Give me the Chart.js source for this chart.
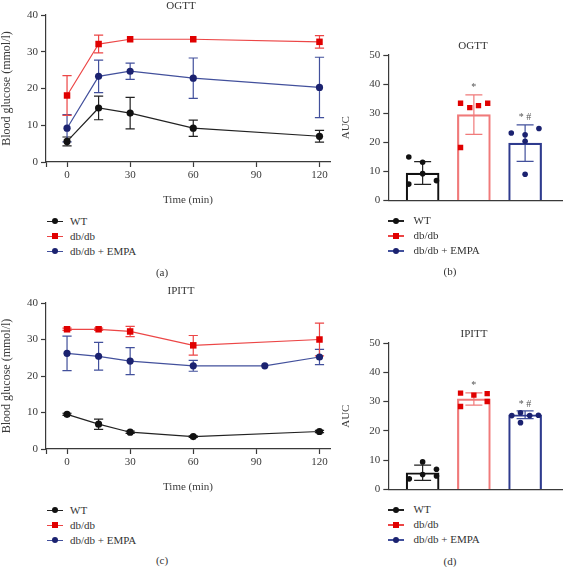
<!DOCTYPE html>
<html lang="en">
<head>
<meta charset="UTF-8">
<title>OGTT / IPITT</title>
<script src="https://cdn.jsdelivr.net/npm/chart.js"></script>
<style>
  body { margin: 0; background: #fff; font-family: 'Liberation Serif', 'Times New Roman', serif; color: #333; }
  .page { position: relative; width: 566px; height: 567px; overflow: hidden; }
  canvas { position: absolute; }
  .tag { position: absolute; font-size: 11px; line-height: 13px; white-space: nowrap; transform: translate(-50%, -50%); }
  .legend { position: absolute; font-size: 11px; line-height: 15px; white-space: nowrap; }
  .legend .key { display: inline-block; position: relative; width: 16px; height: 15px; vertical-align: top; }
  .legend .ln { position: absolute; left: 0; right: 0; top: 7px; height: 1.5px; }
  .legend .mk { position: absolute; left: 5px; top: 4.5px; width: 6px; height: 6px; }
  .legend .circ { border-radius: 50%; }
</style>
</head>
<body>
<div class="page">
  <canvas id="ogtt" width="340" height="207" style="left:0;top:0"></canvas>
  <canvas id="ogttAuc" width="226" height="165" style="left:340px;top:45px"></canvas>
  <canvas id="ipitt" width="340" height="206" style="left:0;top:288px"></canvas>
  <canvas id="ipittAuc" width="226" height="166" style="left:340px;top:333px"></canvas>

  <div class="tag" style="left:181px;top:5px">OGTT</div>
  <div class="tag" style="left:473px;top:45px">OGTT</div>
  <div class="tag" style="left:181px;top:290px">IPITT</div>
  <div class="tag" style="left:474px;top:333px">IPITT</div>

  <div class="tag" style="left:162px;top:272px">(a)</div>
  <div class="tag" style="left:450px;top:271px">(b)</div>
  <div class="tag" style="left:162px;top:560px">(c)</div>
  <div class="tag" style="left:450px;top:561px">(d)</div>
</div>

<script>
// ---- data ----
const times = [0, 15, 30, 60, 120];
const timesEmpaIpitt = [0, 15, 30, 60, 94, 120];
const timeTicks = [0, 30, 60, 90, 120];
const glucoseTicks = [0, 10, 20, 30, 40];
const aucTicks = [0, 10, 20, 30, 40, 50];

const wtOgtt = [5.6, 14.7, 13.3, 9.2, 7.0];
const wtOgttSd = [1.2, 3.2, 4.3, 2.2, 1.6];
const dbOgtt = [18.1, 32.1, 33.4, 33.4, 32.7];
const dbOgttSd = [5.4, 2.4, 0, 0, 1.7];
const empaOgtt = [9.2, 23.3, 24.7, 22.8, 20.3];
const empaOgttSd = [3.7, 4.4, 2.2, 5.5, 8.2];

const wtIpitt = [9.5, 6.8, 4.6, 3.4, 4.8];
const wtIpittSd = [0.3, 1.4, 0.3, 0.2, 0.3];
const dbIpitt = [32.8, 32.8, 32.2, 28.4, 30.0];
const dbIpittSd = [0.3, 0.3, 1.4, 2.7, 4.5];
const empaIpitt = [26.2, 25.4, 24.1, 22.8, 22.8, 25.2];
const empaIpittSd = [4.7, 3.8, 3.7, 1.5, 0, 2.1];

const groups = ['WT', 'db/db', 'db/db + EMPA'];
const sigMarks = ['', '*', '*#'];

const aucOgtt = [9.4, 29.5, 19.7];
const aucOgttSd = [3.9, 6.8, 6.3];
const aucOgttWt = [14.9, 13.1, 9.2, 5.6, 6.8];
const aucOgttDb = [33.4, 31.9, 32.6, 33.4, 18.2];
const aucOgttEmpa = [23.2, 22.6, 20.3, 24.7, 9.0];
const jitOgttWt = [-0.27, 0, 0, -0.27, 0.27];
const jitOgttDb = [-0.26, -0.08, 0.09, 0.27, -0.26];
const jitOgttEmpa = [-0.27, 0, 0, 0.27, 0];

const aucIpitt = [5.7, 30.9, 25.5];
const aucIpittSd = [2.6, 2.1, 1.3];
const aucIpittWt = [9.4, 6.9, 5.1, 4.6, 3.6];
const aucIpittDb = [32.9, 32.2, 32.7, 28.3, 30.0];
const aucIpittEmpa = [25.2, 26.2, 25.2, 25.3, 22.8];
const jitIpittWt = [0, 0.27, 0, 0.27, -0.26];
const jitIpittDb = [-0.26, 0, 0.26, -0.26, 0.26];
const jitIpittEmpa = [-0.26, -0.09, 0.09, 0.26, -0.09];

// ---- style ----
const FONT = "'Liberation Serif', 'Times New Roman', serif";
const INK = '#3a3a3a';
const WT_C = '#111111', DB_C = '#e00000', EM_C = '#1b2270';
const WT_L = '#222222', DB_L = '#ec4646', EM_L = '#42509c';
const DB_BAR = '#f07a7a', EM_BAR = '#2e3b8e';

Chart.defaults.font.family = FONT;
Chart.defaults.font.size = 11;
Chart.defaults.color = INK;

// error bars (mean ± sd) drawn through the chart's own scales
const errorBars = {
  id: 'errorBars',
  beforeDatasetsDraw(chart) {
    const ctx = chart.ctx;
    chart.data.datasets.forEach((ds, i) => {
      if (!ds.sd) return;
      const meta = chart.getDatasetMeta(i);
      const ys = chart.scales[meta.yAxisID];
      meta.data.forEach((el, j) => {
        const sd = ds.sd[j];
        if (!sd) return;
        const v = ds.data[j].y;
        const top = ys.getPixelForValue(v + sd), bot = ys.getPixelForValue(v - sd);
        const w = ds.capHalf;
        ctx.save();
        ctx.strokeStyle = Array.isArray(ds.errColor) ? ds.errColor[j] : ds.errColor;
        ctx.lineWidth = 1.2;
        ctx.beginPath();
        ctx.moveTo(el.x, top); ctx.lineTo(el.x, bot);
        ctx.moveTo(el.x - w, top); ctx.lineTo(el.x + w, top);
        ctx.moveTo(el.x - w, bot); ctx.lineTo(el.x + w, bot);
        ctx.stroke();
        ctx.restore();
      });
    });
  },
  afterDatasetsDraw(chart) {
    const ctx = chart.ctx;
    chart.data.datasets.forEach((ds, i) => {
      if (!ds.sig) return;
      const meta = chart.getDatasetMeta(i);
      const ys = chart.scales[meta.yAxisID];
      meta.data.forEach((el, j) => {
        if (!ds.sig[j]) return;
        const y = ys.getPixelForValue(ds.data[j].y + ds.sd[j]) - 7;
        ctx.save();
        ctx.fillStyle = '#555';
        ctx.font = '10px ' + FONT;
        ctx.textAlign = 'center';
        ctx.textBaseline = 'middle';
        ctx.fillText(ds.sig[j].split('').join(' '), el.x, y);
        ctx.restore();
      });
    });
  }
};

function lineSet(label, xs, ys, sd, color, lineColor, style) {
  return {
    label, sd,
    data: xs.map((x, i) => ({ x, y: ys[i] })),
    borderColor: lineColor,
    borderWidth: 1.2,
    pointStyle: style,
    pointRadius: style === 'rect' ? 4.6 : 3.6,
    pointBackgroundColor: color,
    pointBorderColor: color,
    pointBorderWidth: 0,
    errColor: lineColor,
    capHalf: 4.6,
    tension: 0
  };
}

function axisLine() {
  return { display: true, color: INK, width: 1.2 };
}

function timeChart(id, sets) {
  new Chart(document.getElementById(id), {
    type: 'line',
    data: { datasets: sets },
    plugins: [errorBars],
    options: {
      responsive: false,
      animation: false,
      layout: { padding: { top: 15, right: 10, left: 0, bottom: 0 } },
      plugins: { legend: { display: false }, tooltip: { enabled: false } },
      scales: {
        x: {
          type: 'linear', min: -10, max: 125,
          afterBuildTicks: s => { s.ticks = [-10, ...timeTicks].map(v => ({ value: v })); },
          afterFit: s => { s.height = 45; },
          ticks: { padding: 2, callback: v => (v < 0 ? '' : v) },
          grid: { drawOnChartArea: false, tickLength: 5, tickColor: INK, tickWidth: 1.2 },
          border: axisLine(),
          title: { display: true, text: 'Time (min)', padding: 0 }
        },
        y: {
          min: 0, max: 40,
          afterBuildTicks: s => { s.ticks = glucoseTicks.map(v => ({ value: v })); },
          afterFit: s => { s.width = 46; },
          ticks: { padding: 3 },
          grid: { drawOnChartArea: false, tickLength: 5, tickColor: INK, tickWidth: 1.2 },
          border: axisLine(),
          title: { display: true, text: 'Blood glucose (mmol/l)', padding: 0, font: { size: 12 } }
        }
      }
    }
  });
}

function dots(vals, jit, pos, color, style) {
  return {
    type: 'scatter',
    data: vals.map((v, k) => ({ x: pos + jit[k], y: v })),
    pointStyle: style,
    pointRadius: style === 'rect' ? 3.8 : 2.8,
    pointBackgroundColor: color,
    pointBorderWidth: 0
  };
}

function aucChart(id, means, sd, wt, db, em, jw, jd, je) {
  new Chart(document.getElementById(id), {
    type: 'bar',
    data: {
      datasets: [
        dots(wt, jw, 1, WT_C, 'circle'),
        dots(db, jd, 2, DB_C, 'rect'),
        dots(em, je, 3, EM_C, 'circle'),
        {
          type: 'bar',
          data: means.map((v, i) => ({ x: i + 1, y: v })),
          sd, sig: sigMarks,
          backgroundColor: 'rgba(255,255,255,0)',
          borderColor: [WT_C, DB_BAR, EM_BAR],
          errColor: [WT_L, DB_BAR, EM_L],
          capHalf: 8.5,
          borderWidth: 1.5,
          barThickness: 33
        }
      ]
    },
    plugins: [errorBars],
    options: {
      responsive: false,
      animation: false,
      layout: { padding: { top: 10, right: 0, left: 0, bottom: 0 } },
      plugins: { legend: { display: false }, tooltip: { enabled: false } },
      scales: {
        x: {
          type: 'linear', min: 0.33, max: 3.72, offset: false,
          afterFit: s => { s.height = 8; },
          ticks: { display: false },
          grid: { display: false },
          border: axisLine()
        },
        y: {
          min: 0, max: 50,
          afterBuildTicks: s => { s.ticks = aucTicks.map(v => ({ value: v })); },
          afterFit: s => { s.width = 48.3; },
          ticks: { padding: 3 },
          grid: { drawOnChartArea: false, tickLength: 5, tickColor: INK, tickWidth: 1.2 },
          border: axisLine(),
          title: { display: true, text: 'AUC', padding: 0 }
        }
      }
    }
  });
}

timeChart('ogtt', [
  lineSet(groups[0], times, wtOgtt, wtOgttSd, WT_C, WT_L, 'circle'),
  lineSet(groups[2], times, empaOgtt, empaOgttSd, EM_C, EM_L, 'circle'),
  lineSet(groups[1], times, dbOgtt, dbOgttSd, DB_C, DB_L, 'rect')
]);
timeChart('ipitt', [
  lineSet(groups[0], times, wtIpitt, wtIpittSd, WT_C, WT_L, 'circle'),
  lineSet(groups[2], timesEmpaIpitt, empaIpitt, empaIpittSd, EM_C, EM_L, 'circle'),
  lineSet(groups[1], times, dbIpitt, dbIpittSd, DB_C, DB_L, 'rect')
]);
aucChart('ogttAuc', aucOgtt, aucOgttSd, aucOgttWt, aucOgttDb, aucOgttEmpa, jitOgttWt, jitOgttDb, jitOgttEmpa);
aucChart('ipittAuc', aucIpitt, aucIpittSd, aucIpittWt, aucIpittDb, aucIpittEmpa, jitIpittWt, jitIpittDb, jitIpittEmpa);

// legends under each panel
const legendKeys = [
  { line: WT_L, mark: WT_C, shape: 'circ' },
  { line: DB_L, mark: DB_C, shape: 'sq' },
  { line: EM_L, mark: EM_C, shape: 'circ' }
];
function legend(left, top, gap) {
  const box = document.createElement('div');
  box.className = 'legend';
  box.style.left = left + 'px';
  box.style.top = top + 'px';
  groups.forEach((g, i) => {
    const k = legendKeys[i];
    const row = document.createElement('div');
    row.innerHTML = '<span class="key" style="margin-right:' + gap + 'px"><i class="ln" style="background:' + k.line +
      '"></i><i class="mk ' + k.shape + '" style="background:' + k.mark + '"></i></span>' + g;
    box.appendChild(row);
  });
  document.querySelector('.page').appendChild(box);
}
legend(47, 213.5, 7);
legend(388, 213, 9.5);
legend(47, 502.5, 7);
legend(388, 502, 9.5);
</script>
</body>
</html>
